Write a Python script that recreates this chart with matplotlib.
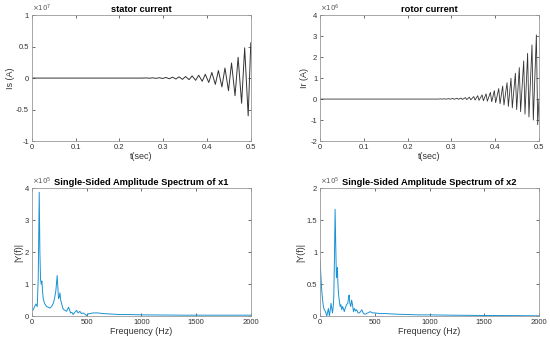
import matplotlib.pyplot as plt
from matplotlib.ticker import FormatStrFormatter

plt.rcParams['font.family'] = ['Liberation Sans', 'DejaVu Sans']
plt.rcParams['axes.unicode_minus'] = False

# stator current, units of 1e7 A (extrema)
stator_t = [0.0, 0.25, 0.261, 0.269, 0.276, 0.284, 0.291, 0.299, 0.306, 0.314, 0.321, 0.329,
            0.336, 0.344, 0.351, 0.359, 0.366, 0.374, 0.381, 0.389, 0.396, 0.404, 0.411,
            0.419, 0.426, 0.434, 0.441, 0.449, 0.456, 0.464, 0.471, 0.479, 0.486, 0.494, 0.5]
stator_i = [0.0, 0.0, 0.002, -0.002, 0.004, -0.004, 0.006, -0.006, 0.01, -0.01, 0.015, -0.015,
            0.02, -0.02, 0.025, -0.025, 0.035, -0.035, 0.045, -0.05, 0.06, -0.07, 0.09,
            -0.1, 0.12, -0.14, 0.16, -0.2, 0.24, -0.28, 0.33, -0.4, 0.48, -0.6, 0.56]

# rotor current, units of 1e6 A (peaks and troughs)
rotor_peak_t = [0.275, 0.284, 0.294, 0.303, 0.313, 0.322, 0.332, 0.341, 0.351, 0.36, 0.37,
                0.379, 0.389, 0.398, 0.408, 0.417, 0.427, 0.436, 0.446, 0.455, 0.465, 0.474,
                0.484, 0.494]
rotor_peak = [0.01, 0.015, 0.02, 0.03, 0.04, 0.05, 0.07, 0.09, 0.12, 0.16, 0.2,
              0.25, 0.32, 0.4, 0.5, 0.62, 0.78, 0.99, 1.23, 1.5, 1.82, 2.18,
              2.58, 3.06]
rotor_trough = [-0.003, -0.005, -0.007, -0.01, -0.013, -0.018, -0.025, -0.035, -0.045, -0.06, -0.08,
                -0.1, -0.13, -0.17, -0.22, -0.28, -0.35, -0.42, -0.5, -0.6, -0.72, -0.85,
                -1.0, -1.22]

# single-sided spectra, units of 1e5
f1 = [0, 12, 25, 37, 49, 58, 67, 73, 79, 85, 91, 97, 103, 115, 134, 150, 164, 180, 195, 207,
      219, 231, 237, 243, 250, 256, 263, 271, 282, 292, 305, 317, 326, 335, 344, 353, 365, 377,
      392, 408, 422, 438, 452, 469, 485, 499, 515, 530, 560, 600, 650, 700, 800, 900, 1000,
      1200, 1400, 1600, 1800, 2000]
y1 = [0.18, 0.2, 0.3, 0.38, 0.3, 1.2, 3.87, 2.0, 1.15, 1.0, 1.1, 0.8, 0.55, 0.4, 0.3, 0.28, 0.25,
      0.3, 0.4, 0.55, 0.8, 1.27, 0.9, 0.55, 0.6, 0.73, 0.5, 0.4, 0.25, 0.2, 0.18, 0.15, 0.22,
      0.28, 0.2, 0.1, 0.12, 0.05, 0.12, 0.18, 0.1, 0.15, 0.08, 0.1, 0.06, 0.02, 0.07, 0.08, 0.1,
      0.1, 0.08, 0.07, 0.05, 0.05, 0.04, 0.035, 0.03, 0.03, 0.03, 0.03]

f2 = [0, 8, 15, 23, 30, 38, 46, 53, 61, 68, 76, 85, 93, 100, 107, 113, 120, 125, 131, 137, 143,
      149, 154, 158, 163, 168, 175, 183, 190, 198, 205, 213, 221, 229, 241, 253, 259, 265, 272,
      280, 288, 296, 305, 314, 325, 335, 346, 357, 369, 381, 396, 412, 435, 457, 480, 500, 550,
      600, 700, 800, 900, 1000, 1200, 1500, 1800, 2000]
y2 = [0.88, 0.6, 0.4, 0.25, 0.15, 0.1, 0.08, 0.05, 0.0, 0.06, 0.12, 0.0, 0.1, 0.2, 0.12, 0.05,
      0.15, 0.3, 0.9, 1.67, 1.1, 0.6, 0.65, 0.76, 0.5, 0.35, 0.25, 0.15, 0.18, 0.1, 0.15, 0.12,
      0.07, 0.12, 0.18, 0.2, 0.28, 0.33, 0.2, 0.15, 0.25, 0.18, 0.07, 0.12, 0.08, 0.1, 0.05, 0.05,
      0.07, 0.1, 0.04, 0.03, 0.05, 0.07, 0.05, 0.05, 0.04, 0.04, 0.03, 0.025, 0.02, 0.02, 0.015,
      0.01, 0.008, 0.005]

# interleave rotor peaks and troughs into one trace
rotor_t = [0.0, 0.27]
rotor_i = [0.0, 0.0]
for tp, p, q in zip(rotor_peak_t, rotor_peak, rotor_trough):
    rotor_t += [tp, tp + 0.003]
    rotor_i += [p, q]
rotor_t.append(0.5)
rotor_i.append(0.0)

fig = plt.figure(figsize=(5.5, 3.44), dpi=100)
ax1 = fig.add_axes([0.058, 0.590, 0.398, 0.366])
ax2 = fig.add_axes([0.582, 0.590, 0.398, 0.366])
ax3 = fig.add_axes([0.058, 0.081, 0.398, 0.372])
ax4 = fig.add_axes([0.582, 0.081, 0.398, 0.372])

blue = '#1a92d4'
ax1.plot(stator_t, stator_i, color='#333333', lw=0.7)
ax2.plot(rotor_t, rotor_i, color='#333333', lw=0.6)
ax3.plot(f1, y1, color=blue, lw=0.7)
ax4.plot(f2, y2, color=blue, lw=0.7)

ax1.set(xlim=(0, 0.5), ylim=(-1, 1), xticks=[0, 0.1, 0.2, 0.3, 0.4, 0.5], yticks=[-1, -0.5, 0, 0.5, 1])
ax2.set(xlim=(0, 0.5), ylim=(-2, 4), xticks=[0, 0.1, 0.2, 0.3, 0.4, 0.5], yticks=[-2, -1, 0, 1, 2, 3, 4])
ax3.set(xlim=(0, 2000), ylim=(0, 4), xticks=[0, 500, 1000, 1500, 2000], yticks=[0, 1, 2, 3, 4])
ax4.set(xlim=(0, 2000), ylim=(0, 2), xticks=[0, 500, 1000, 1500, 2000], yticks=[0, 0.5, 1, 1.5, 2])

titles = ['stator current', 'rotor current',
          'Single-Sided Amplitude Spectrum of x1', 'Single-Sided Amplitude Spectrum of x2']
xlabels = ['t(sec)', 't(sec)', 'Frequency (Hz)', 'Frequency (Hz)']
ylabels = ['Is (A)', 'Ir (A)', '|Y(f)|', '|Y(f)|']
exps = ['7', '6', '5', '5']

for ax, ti, xl, yl, e in zip([ax1, ax2, ax3, ax4], titles, xlabels, ylabels, exps):
    ax.set_title(ti, fontsize=6.7, fontweight='bold', pad=2)
    ax.set_xlabel(xl, fontsize=6.5, color='#333333', labelpad=1)
    ax.set_ylabel(yl, fontsize=6.5, color='#333333', labelpad=1)
    ax.tick_params(direction='in', length=2, width=0.5, labelsize=5.5, colors='#333333',
                   top=True, right=True, pad=2)
    ax.xaxis.set_major_formatter(FormatStrFormatter('%g'))
    ax.yaxis.set_major_formatter(FormatStrFormatter('%g'))
    for s in ax.spines.values():
        s.set_color('#999999')
        s.set_linewidth(0.6)
    ax.text(0.0, 1.01, r'$\times10^{%s}$' % e, transform=ax.transAxes, fontsize=5,
            color='#555555', ha='left', va='bottom')

fig.savefig('out.png', dpi=100)
